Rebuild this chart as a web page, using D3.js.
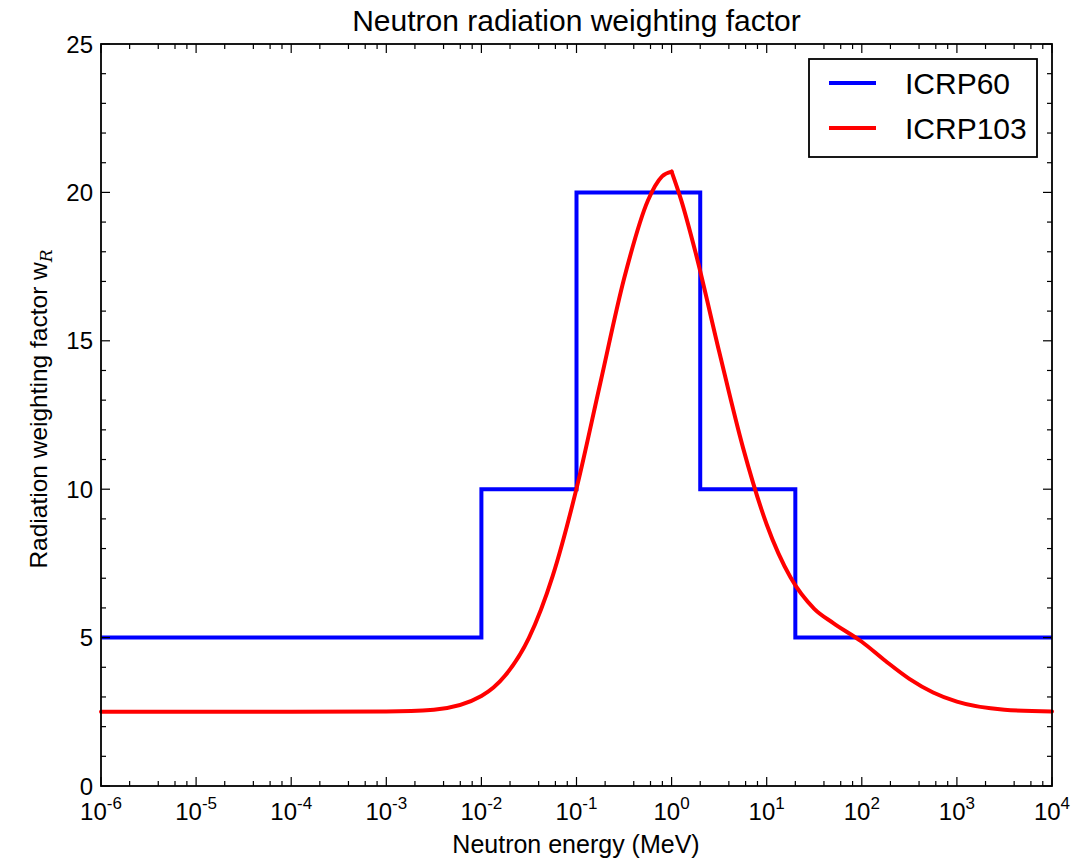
<!DOCTYPE html>
<html><head><meta charset="utf-8">
<script src="https://cdn.jsdelivr.net/npm/d3@7"></script>
<style>
body{margin:0;background:#fff;}
text{font-family:"Liberation Sans",Arial,sans-serif;fill:#000;}
</style></head><body>
<svg id="c" width="1088" height="862"></svg>
<script>
// Data
const icrp60Energy = [1e-6, 1e-2, 1e-2, 1e-1, 1e-1, 2, 2, 20, 20, 1e4];
const icrp60Weight = [5, 5, 10, 10, 20, 20, 10, 10, 5, 5];
const icrp103LogE = [-6, -5, -4, -3, -2.5, -2, -1.75, -1.5, -1.25, -1, -0.75, -0.5, -0.25, -0.1, 0, 0.1, 0.25, 0.5, 0.75, 1, 1.25, 1.5, 1.7, 2, 2.25, 2.5, 2.75, 3, 3.5, 4];
const icrp103Weight = [2.5, 2.5, 2.5, 2.51, 2.57, 3.03, 3.72, 4.99, 7.08, 10.02, 13.57, 17.09, 19.72, 20.54, 20.7, 19.75, 18.0, 14.64, 11.41, 8.81, 7.03, 5.97, 5.49, 4.86, 4.21, 3.61, 3.15, 2.84, 2.57, 2.51];
const xTickExps = [-6, -5, -4, -3, -2, -1, 0, 1, 2, 3, 4];
const xMinorSubs = [2, 4, 6, 8];
const yTicks = [0, 5, 10, 15, 20, 25];
const seriesNames = ["ICRP60", "ICRP103"];
const seriesColors = ["#0000ff", "#ff0000"];

const svg = d3.select("#c");
const L = 101, R = 1052, T = 44, B = 786;
const x = d3.scaleLog().domain([1e-6, 1e4]).range([L, R]);
const y = d3.scaleLinear().domain([0, 25]).range([B, T]);

// lines
const line60 = d3.line().x(d => x(d[0])).y(d => y(d[1]));
svg.append("path").datum(icrp60Energy.map((e, i) => [e, icrp60Weight[i]]))
  .attr("d", line60).attr("fill", "none").attr("stroke", seriesColors[0]).attr("stroke-width", 4);
const line103 = d3.line().x(d => x(Math.pow(10, d[0]))).y(d => y(d[1])).curve(d3.curveMonotoneX);
const d103 = icrp103LogE.map((e, i) => [e, icrp103Weight[i]]);
const g103 = svg.append("g").attr("fill", "none").attr("stroke", seriesColors[1]).attr("stroke-width", 4).attr("stroke-linejoin","round").attr("stroke-linecap","round");
g103.append("path").datum(d103.filter(d => d[0] <= 0)).attr("d", line103);
g103.append("path").datum(d103.filter(d => d[0] >= 0)).attr("d", line103);

// ticks (inward), both sides
const g = svg.append("g").attr("stroke", "#000").attr("stroke-width", 1.2);
yTicks.forEach(v => {
  [[L, 9], [R, -9]].forEach(([x0, len]) => g.append("line").attr("x1", x0).attr("x2", x0 + len).attr("y1", y(v)).attr("y2", y(v)));
});
d3.range(0, 26).filter(v => v % 5 !== 0).forEach(v => {
  [[L, 5], [R, -5]].forEach(([x0, len]) => g.append("line").attr("x1", x0).attr("x2", x0 + len).attr("y1", y(v)).attr("y2", y(v)));
});
xTickExps.forEach(p => {
  const xv = x(Math.pow(10, p));
  [[B, -9], [T, 9]].forEach(([y0, len]) => g.append("line").attr("x1", xv).attr("x2", xv).attr("y1", y0).attr("y2", y0 + len));
  if (p < 4) xMinorSubs.forEach(m => {
    const xm = x(m * Math.pow(10, p));
    [[B, -5], [T, 5]].forEach(([y0, len]) => g.append("line").attr("x1", xm).attr("x2", xm).attr("y1", y0).attr("y2", y0 + len));
  });
});
svg.append("rect").attr("x", L).attr("y", T).attr("width", R - L).attr("height", B - T)
  .attr("fill", "none").attr("stroke", "#000").attr("stroke-width", 1.8);

// tick labels
yTicks.forEach(v => svg.append("text").attr("x", L - 8).attr("y", y(v) + 8.5).attr("text-anchor", "end")
  .attr("font-size", 24).text(v));
xTickExps.forEach(p => {
  const t = svg.append("text").attr("x", x(Math.pow(10, p))).attr("y", B + 34).attr("text-anchor", "middle").attr("font-size", 24);
  t.append("tspan").text("10");
  t.append("tspan").attr("dy", -11).attr("font-size", 17).text(p);
});

// titles
svg.append("text").attr("x", (L + R) / 2).attr("y", 31).attr("text-anchor", "middle").attr("font-size", 30)
  .text("Neutron radiation weighting factor");
svg.append("text").attr("x", 576).attr("y", 853).attr("text-anchor", "middle").attr("font-size", 25)
  .text("Neutron energy (MeV)");
const yl = svg.append("text").attr("transform", `translate(47,409) rotate(-90)`).attr("text-anchor", "middle").attr("font-size", 24.5);
yl.append("tspan").text("Radiation weighting factor w");
yl.append("tspan").attr("dy", 5).attr("font-size", 17).attr("font-style", "italic").attr("font-family", "DejaVu Serif").text("R");

// legend
const lg = svg.append("g");
lg.append("rect").attr("x", 809).attr("y", 59).attr("width", 228).attr("height", 98).attr("fill", "#fff").attr("stroke", "#000").attr("stroke-width", 1.8);
seriesNames.forEach((n, i) => {
  const yy = 83 + i * 45;
  lg.append("line").attr("x1", 829).attr("x2", 876).attr("y1", yy).attr("y2", yy).attr("stroke", seriesColors[i]).attr("stroke-width", 4);
  lg.append("text").attr("x", 905).attr("y", yy + 11).attr("font-size", 30).text(n);
});
</script></body></html>
